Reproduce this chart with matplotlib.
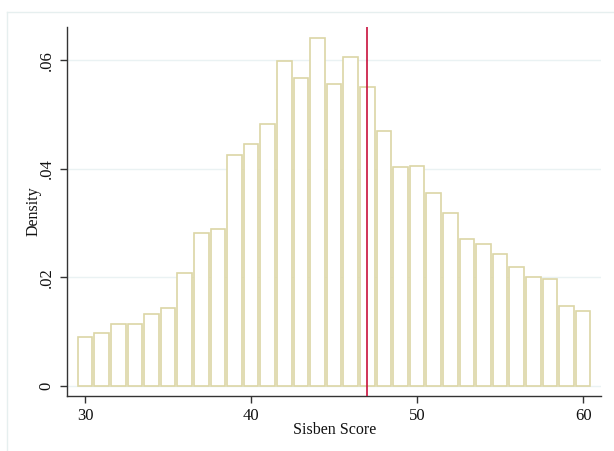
import matplotlib
matplotlib.use("Agg")
import matplotlib.pyplot as plt
from matplotlib.lines import Line2D

# Data
bin_centers = list(range(30, 61))
density = [0.0090, 0.0098, 0.0113, 0.0113, 0.0132, 0.0143, 0.0207, 0.0281,
           0.0289, 0.0426, 0.0445, 0.0483, 0.0598, 0.0567, 0.0641, 0.0556,
           0.0606, 0.0551, 0.0470, 0.0403, 0.0405, 0.0356, 0.0319, 0.0271,
           0.0261, 0.0243, 0.0219, 0.0201, 0.0196, 0.0146, 0.0137]
cutoff = 47
x_ticks = [30, 40, 50, 60]
y_ticks = [0, 0.02, 0.04, 0.06]
y_ticklabels = ["0", ".02", ".04", ".06"]

plt.rcParams['font.family'] = ['Liberation Serif', 'DejaVu Serif']

W, H = 614, 451
fig = plt.figure(figsize=(W / 100, H / 100), dpi=100)
ax = fig.add_axes([67.3 / W, 1 - 395.7 / H, (601 - 67.3) / W, (395.7 - 27) / H])

# faint outer frame
frame_col = '#e6efef'
fig.add_artist(Line2D([7 / W, 7 / W], [0, 1 - 12 / H], color=frame_col, lw=1.0, transform=fig.transFigure))
fig.add_artist(Line2D([7 / W, 1], [1 - 12 / H, 1 - 12 / H], color=frame_col, lw=1.0, transform=fig.transFigure))

ax.bar(bin_centers, density, width=0.88, color='white', edgecolor='#dcd6a6',
       linewidth=1.2, zorder=2)
ax.axvline(cutoff, color='#c8103c', lw=1.2, zorder=3)

ax.set_xlim(28.93, 61.08)
ax.set_ylim(-0.00184, 0.0661)
ax.set_xticks(x_ticks)
ax.set_yticks(y_ticks)
ax.set_yticklabels(y_ticklabels, rotation=90, va='center')
ax.grid(axis='y', color='#eaf2f3', lw=1.0, zorder=0)
ax.set_axisbelow(True)

for s in ['top', 'right']:
    ax.spines[s].set_visible(False)
for s in ['left', 'bottom']:
    ax.spines[s].set_color('#333333')
    ax.spines[s].set_linewidth(1.0)
ax.tick_params(axis='both', length=5, width=1.0, color='#333333', labelsize=12, labelcolor='#111111')
ax.tick_params(axis='y', pad=4)
ax.tick_params(axis='x', pad=4)

ax.set_xlabel("Sisben Score", fontsize=11.5, color='#111111')
ax.set_ylabel("Density", fontsize=11.5, color='#111111')
ax.xaxis.label.set_va('center')
ax.yaxis.label.set_va('center')
ax.xaxis.set_label_coords(0.5007, (395.7 - 430) / 368.7)
ax.yaxis.set_label_coords((34 - 67.3) / 533.7, 0.5)

fig.savefig("out.png", dpi=100)
